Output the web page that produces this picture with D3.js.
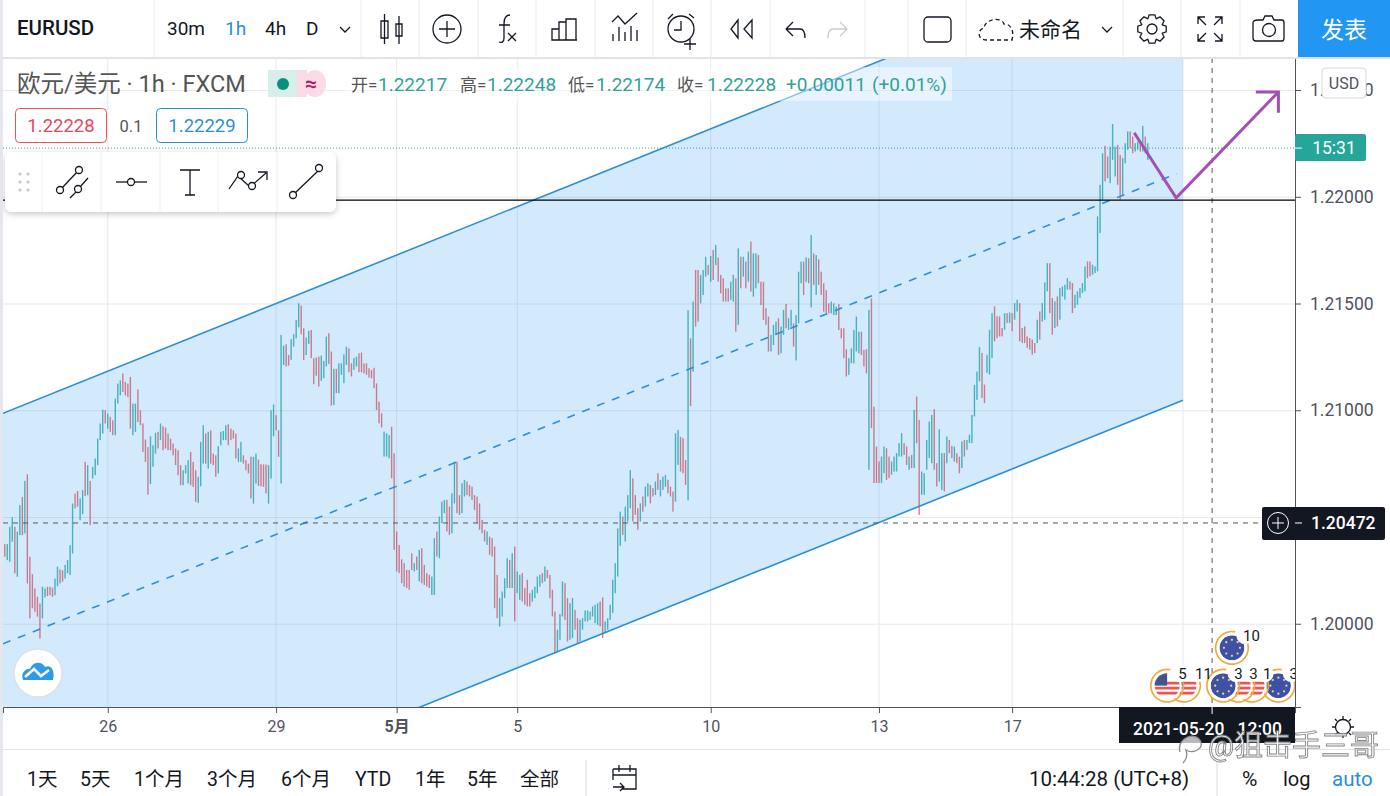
<!DOCTYPE html>
<html>
<head>
<meta charset="utf-8">
<title>EURUSD</title>
<script src="https://cdn.jsdelivr.net/npm/d3@7"></script>
<style>
html, body { margin: 0; padding: 0; background: #fff; overflow: hidden; }
svg { display: block; }
text { font-family: Roboto, "Noto Sans CJK SC", sans-serif; }
.icon { fill: none; stroke: #131722; stroke-width: 1.3; }
</style>
</head>
<body>
<svg id="chart" width="1390" height="796"></svg>
<script>
// hourly bars, ten to a row
var highs = [
1.20373,1.20373,1.20454,1.20498,1.20454,1.20431,1.20555,1.20594,1.20669,1.20700,
1.20314,1.20232,1.20165,1.20126,1.20095,1.20173,1.20165,1.20173,1.20173,1.20169,
1.20212,1.20267,1.20254,1.20251,1.20275,1.20298,1.20368,1.20563,1.20610,1.20622,
1.20587,1.20626,1.20758,1.20743,1.20669,1.20735,1.20774,1.20867,1.20938,1.21003,
1.21000,1.20984,1.20969,1.20953,1.21055,1.21125,1.21140,1.21172,1.21133,1.21125,
1.21156,1.21031,1.21031,1.21097,1.21000,1.20938,1.20863,1.20828,1.20878,1.20836,
1.20894,1.20899,1.20938,1.20925,1.20919,1.20891,1.20867,1.20844,1.20821,1.20813,
1.20743,1.20719,1.20743,1.20766,1.20805,1.20758,1.20719,1.20688,1.20852,1.20930,
1.20891,1.20899,1.20906,1.20797,1.20789,1.20832,1.20899,1.20903,1.20930,1.20934,
1.20914,1.20906,1.20891,1.20821,1.20852,1.20789,1.20766,1.20750,1.20782,1.20782,
1.20797,1.20769,1.20747,1.20746,1.20746,1.20743,1.21000,1.21027,1.20977,1.20906,
1.21353,1.21303,1.21309,1.21259,1.21333,1.21356,1.21423,1.21501,1.21490,1.21384,
1.21340,1.21372,1.21376,1.21244,1.21247,1.21251,1.21256,1.21231,1.21345,1.21361,
1.21275,1.21194,1.21194,1.21220,1.21220,1.21262,1.21298,1.21290,1.21220,1.21244,
1.21251,1.21267,1.21270,1.21220,1.21220,1.21197,1.21189,1.21199,1.21126,1.21040,
1.20986,1.20900,1.20892,1.20884,1.20923,1.20798,1.20432,1.20369,1.20302,1.20284,
1.20252,1.20252,1.20330,1.20284,1.20315,1.20346,1.20354,1.20276,1.20237,1.20229,
1.20221,1.20401,1.20432,1.20502,1.20572,1.20580,1.20580,1.20549,1.20611,1.20759,
1.20759,1.20603,1.20658,1.20674,1.20666,1.20650,1.20642,1.20603,1.20596,1.20564,
1.20486,1.20440,1.20432,1.20408,1.20401,1.20362,1.20229,1.20120,1.20151,1.20213,
1.20307,1.20299,1.20330,1.20362,1.20245,1.20229,1.20237,1.20167,1.20206,1.20143,
1.20159,1.20174,1.20221,1.20229,1.20237,1.20268,1.20252,1.20229,1.20159,1.20057,
1.19972,1.20046,1.20198,1.20190,1.20120,1.20096,1.20120,1.20065,1.20026,1.20018,
1.20026,1.20062,1.20062,1.20057,1.20081,1.20089,1.20096,1.20104,1.20123,1.20011,
1.20026,1.20089,1.20206,1.20284,1.20447,1.20525,1.20502,1.20549,1.20603,1.20720,
1.20681,1.20603,1.20541,1.20564,1.20596,1.20642,1.20658,1.20650,1.20635,1.20666,
1.20705,1.20674,1.20689,1.20697,1.20674,1.20642,1.20619,1.20892,1.20908,1.20876,
1.20869,1.20767,1.21469,1.21337,1.21509,1.21657,1.21657,1.21634,1.21657,1.21719,
1.21680,1.21723,1.21751,1.21774,1.21715,1.21634,1.21618,1.21571,1.21571,1.21602,
1.21634,1.21618,1.21758,1.21719,1.21719,1.21696,1.21743,1.21790,1.21735,1.21735,
1.21727,1.21602,1.21602,1.21478,1.21439,1.21353,1.21400,1.21415,1.21431,1.21392,
1.21470,1.21498,1.21431,1.21470,1.21407,1.21446,1.21649,1.21696,1.21696,1.21716,
1.21712,1.21821,1.21735,1.21727,1.21707,1.21649,1.21595,1.21563,1.21501,1.21509,
1.21501,1.21485,1.21498,1.21384,1.21384,1.21286,1.21244,1.21290,1.21376,1.21439,
1.21368,1.21368,1.21283,1.21286,1.21470,1.21524,1.21017,1.20830,1.20760,1.20783,
1.20830,1.20822,1.20783,1.20760,1.20783,1.20799,1.20846,1.20893,1.20846,1.20830,
1.20783,1.20791,1.21002,1.21064,1.20955,1.20713,1.20705,1.20861,1.20947,1.20978,
1.21005,1.20752,1.20911,1.20799,1.20799,1.20877,1.20861,1.20833,1.20830,1.20799,
1.20783,1.20854,1.20861,1.20861,1.20885,1.20978,1.21119,1.21181,1.21296,1.21268,
1.21120,1.21260,1.21377,1.21455,1.21487,1.21440,1.21440,1.21385,1.21455,1.21455,
1.21458,1.21455,1.21502,1.21518,1.21502,1.21385,1.21393,1.21346,1.21338,1.21331,
1.21315,1.21424,1.21463,1.21502,1.21599,1.21689,1.21689,1.21526,1.21510,1.21533,
1.21572,1.21580,1.21588,1.21619,1.21604,1.21596,1.21541,1.21557,1.21572,1.21596,
1.21674,1.21697,1.21697,1.21682,1.21674,1.21908,1.22056,1.22204,1.22239,1.22189,
1.22235,1.22341,1.22235,1.22243,1.22196,1.22181,1.22251,1.22306,1.22306,1.22282,
1.22251,1.22259,1.22251,1.22332,1.22282,1.22251
];
var lows = [
1.20314,1.20298,1.20290,1.20384,1.20236,1.20220,1.20415,1.20415,1.20423,1.20189,
1.20025,1.20072,1.20056,1.20033,1.19931,1.20025,1.20123,1.20130,1.20134,1.20126,
1.20134,1.20176,1.20189,1.20197,1.20212,1.20236,1.20228,1.20329,1.20540,1.20548,
1.20485,1.20513,1.20598,1.20602,1.20462,1.20680,1.20696,1.20743,1.20860,1.20891,
1.20938,1.20914,1.20899,1.20883,1.20883,1.21031,1.21070,1.21086,1.21070,1.21062,
1.20914,1.20883,1.20899,1.20945,1.20930,1.20805,1.20758,1.20605,1.20654,1.20735,
1.20797,1.20821,1.20860,1.20813,1.20821,1.20813,1.20813,1.20789,1.20743,1.20696,
1.20649,1.20649,1.20704,1.20657,1.20649,1.20641,1.20571,1.20566,1.20644,1.20750,
1.20750,1.20727,1.20750,1.20743,1.20688,1.20704,1.20836,1.20860,1.20860,1.20836,
1.20860,1.20867,1.20774,1.20758,1.20758,1.20750,1.20719,1.20704,1.20587,1.20563,
1.20657,1.20646,1.20644,1.20641,1.20610,1.20563,1.20680,1.20878,1.20906,1.20782,
1.20657,1.21212,1.21205,1.21209,1.21236,1.21298,1.21337,1.21389,1.21356,1.21236,
1.21259,1.21311,1.21244,1.21122,1.21162,1.21111,1.21138,1.21150,1.21205,1.21216,
1.21022,1.21025,1.21080,1.21080,1.21166,1.21127,1.21212,1.21178,1.21158,1.21189,
1.21205,1.21178,1.21178,1.21173,1.21166,1.21153,1.21150,1.21103,1.21001,1.20939,
1.20920,1.20783,1.20783,1.20775,1.20681,1.20346,1.20245,1.20237,1.20190,1.20174,
1.20167,1.20159,1.20252,1.20245,1.20252,1.20198,1.20190,1.20182,1.20174,1.20167,
1.20135,1.20135,1.20315,1.20307,1.20471,1.20518,1.20432,1.20416,1.20424,1.20564,
1.20518,1.20510,1.20518,1.20596,1.20603,1.20596,1.20580,1.20533,1.20471,1.20440,
1.20424,1.20385,1.20369,1.20323,1.20315,1.20073,1.20026,1.19987,1.20034,1.20120,
1.20167,1.20167,1.20167,1.20011,1.20143,1.20112,1.20104,1.20089,1.20081,1.20081,
1.20104,1.20120,1.20143,1.20174,1.20190,1.20198,1.20213,1.20120,1.20034,1.19862,
1.19870,1.19925,1.20034,1.20018,1.19917,1.19925,1.19933,1.19972,1.19909,1.19917,
1.19972,1.20011,1.20011,1.20018,1.20034,1.20003,1.19995,1.19987,1.19933,1.19956,
1.19972,1.20018,1.20050,1.20143,1.20221,1.20365,1.20416,1.20385,1.20479,1.20541,
1.20479,1.20510,1.20440,1.20479,1.20525,1.20549,1.20596,1.20564,1.20596,1.20603,
1.20627,1.20596,1.20627,1.20642,1.20611,1.20596,1.20525,1.20572,1.20744,1.20713,
1.20705,1.20650,1.20578,1.21020,1.21181,1.21392,1.21415,1.21501,1.21540,1.21626,
1.21634,1.21602,1.21610,1.21680,1.21602,1.21548,1.21509,1.21509,1.21509,1.21517,
1.21509,1.21368,1.21400,1.21571,1.21626,1.21571,1.21602,1.21556,1.21532,1.21571,
1.21595,1.21493,1.21423,1.21400,1.21275,1.21275,1.21306,1.21353,1.21259,1.21267,
1.21353,1.21384,1.21376,1.21392,1.21298,1.21233,1.21407,1.21595,1.21540,1.21602,
1.21595,1.21482,1.21587,1.21540,1.21587,1.21540,1.21462,1.21454,1.21454,1.21454,
1.21446,1.21446,1.21376,1.21337,1.21244,1.21158,1.21166,1.21220,1.21220,1.21275,
1.21267,1.21259,1.21205,1.21173,1.20721,1.20916,1.20659,1.20659,1.20659,1.20659,
1.20705,1.20674,1.20682,1.20698,1.20713,1.20713,1.20783,1.20783,1.20791,1.20744,
1.20721,1.20729,1.20729,1.20846,1.20510,1.20604,1.20604,1.20721,1.20776,1.20752,
1.20721,1.20643,1.20666,1.20627,1.20620,1.20752,1.20799,1.20776,1.20760,1.20752,
1.20705,1.20729,1.20783,1.20815,1.20846,1.20846,1.20971,1.21049,1.21136,1.21058,
1.21034,1.21175,1.21167,1.21245,1.21323,1.21338,1.21346,1.21346,1.21377,1.21409,
1.21409,1.21370,1.21424,1.21463,1.21323,1.21315,1.21315,1.21292,1.21284,1.21260,
1.21268,1.21315,1.21331,1.21416,1.21424,1.21557,1.21455,1.21354,1.21385,1.21393,
1.21424,1.21533,1.21518,1.21565,1.21565,1.21455,1.21479,1.21494,1.21526,1.21549,
1.21557,1.21619,1.21627,1.21635,1.21643,1.21651,1.21830,1.21986,1.22072,1.22087,
1.22064,1.22173,1.22095,1.22056,1.21986,1.22009,1.22157,1.22220,1.22228,1.22204,
1.22212,1.22220,1.22212,1.22212,1.22204,1.22173
];
var directions = [
'duuuduudud','ddddduuddd','uudduuuudd','uududuuuuu','dudduuuddd',
'duuddddduu','ududdddddd','duuuddduuu','duddduuuud','ddduuddddu',
'udddduuudd','uudduuuudd','uudddduuud','duduuuuddu','uddddddddd',
'duuudddddd','dddududddd','uuduuudduu','dduudddddd','ddudddduuu',
'ududuudddd','uuuududddd','uuudduuddu','uuuuuuuddu','uuuuuuduuu',
'ddduduuddu','duuuddduud','ddududduuu','dududddddu','ududududuu',
'ddddduuudu','uduuduuudu','dududddddu','uudddduuuu','uddduddddu',
'udduuuuudd','ududduuuuu','dduududdud','duduuuuuud','duuuddddud',
'uduudddddd','duduuuddud','uuuudduuuu','udduuuuudd','uuudduuudd','uududu'
].join('');

var priceTicks = [1.225, 1.22, 1.215, 1.21, 1.205, 1.2];
var hiddenPriceLabels = [1.205];
var timeTickBars = [41, 108, 156, 204, 281, 348, 401, 469];
var timeTickLabels = ['26', '29', '5月', '5', '10', '13', '17', ''];

var channelUpper = [[-0.7, 1.20986], [469, 1.23207]];
var channelLower = [[-0.7, 1.18824], [469, 1.21047]];
var channelMiddle = [[-0.7, 1.19906], [466.5, 1.22108]];
var arrowPath = [[449.6, 1.22300], [466.3, 1.21995], [507, 1.22491]];
var arrowHead = [[498, 1.22491], [507, 1.22491], [507, 1.22393]];
var levelPrice = 1.21984;
var lastPrice = 1.22228;
var crosshairPrice = 1.20472;
var crosshairBar = 480.6;

var quoteItems = [
	['开=', 351, 'grey'], ['1.22217', 378, 'up'], ['高=', 460, 'grey'], ['1.22248', 487, 'up'],
	['低=', 568, 'grey'], ['1.22174', 596, 'up'], ['收=', 677, 'grey'], ['1.22228', 707, 'up'],
	['+0.00011', 786, 'up'], ['(+0.01%)', 872, 'up']
];
var rangeButtons = [['1天', 27], ['5天', 80], ['1个月', 134], ['3个月', 207], ['6个月', 281], ['YTD', 355], ['1年', 415], ['5年', 467], ['全部', 520]];
var intervalButtons = [['30m', 167, '#131722'], ['1h', 225, '#2a8fd6'], ['4h', 265, '#131722'], ['D', 306, '#131722']];
var toolbarSeparators = [154, 361, 419, 478, 536, 595, 653, 711, 770, 865, 908, 966, 1123, 1181, 1240];
var drawSeparators = [42, 101, 160, 218, 277];
// economic calendar flags: bar, price, kind, label, listed back to front
var eventFlags = [[507, 1.19710, 'eu', '3'], [496.5, 1.19710, 'us', '1'], [491, 1.19710, 'us', '3'], [485, 1.19710, 'eu', '3'],
	[488.5, 1.19887, 'eu', '10'], [469.4, 1.19710, 'us', '11'], [462.7, 1.19710, 'us', '5']];

var upColor = '#26a69a', downColor = '#ef5350', channelColor = '#2a8fd6';

var svg = d3.select('#chart');
var plot = {left: 3, right: 1295, top: 58, bottom: 707};

var x = d3.scaleLinear().domain([-0.7, 513.6]).range([plot.left, plot.right]);
var y = d3.scaleLinear().domain([1.2265, 1.1961]).range([plot.top, plot.bottom]);

var bars = highs.map(function(h, i) {
	return {bar: i, high: h, low: lows[i], up: directions.charAt(i) === 'u'};
});

drawPlot();
drawAxes();
drawOverlays();
drawToolbars();

function drawPlot() {
	svg.append('rect').attr('width', 1390).attr('height', 796).attr('fill', '#fff');

	var defs = svg.append('defs');
	defs.append('clipPath').attr('id', 'plot-clip').append('rect')
		.attr('x', plot.left).attr('y', plot.top)
		.attr('width', plot.right - plot.left).attr('height', plot.bottom - plot.top);
	defs.append('clipPath').attr('id', 'flag-clip').append('circle').attr('r', 12.5);

	var grid = svg.append('g').attr('class', 'grid').attr('stroke', '#e6e8ec');
	grid.selectAll('.hgrid').data(priceTicks).enter().append('line')
		.attr('class', 'hgrid')
		.attr('x1', plot.left).attr('x2', plot.right)
		.attr('y1', function(d) { return y(d) + 0.5 }).attr('y2', function(d) { return y(d) + 0.5 });
	grid.selectAll('.vgrid').data(timeTickBars).enter().append('line')
		.attr('class', 'vgrid')
		.attr('y1', plot.top).attr('y2', plot.bottom)
		.attr('x1', function(d) { return x(d) }).attr('x2', function(d) { return x(d) });

	var chart = svg.append('g').attr('clip-path', 'url(#plot-clip)');

	chart.selectAll('.bar').data(bars).enter().append('rect')
		.attr('class', 'bar')
		.attr('x', function(d) { return x(d.bar) - 0.7 })
		.attr('width', 1.4)
		.attr('y', function(d) { return y(d.high) })
		.attr('height', function(d) { return y(d.low) - y(d.high) })
		.attr('fill', function(d) { return d.up ? upColor : downColor })
		.attr('opacity', 0.8);

	var line = d3.line().x(function(d) { return x(d[0]) }).y(function(d) { return y(d[1]) });

	chart.append('path')
		.attr('d', line(channelUpper.concat(channelLower.slice().reverse())) + 'Z')
		.attr('fill', 'rgba(33,150,243,0.2)');
	chart.append('path').attr('d', line(channelUpper)).attr('fill', 'none').attr('stroke', channelColor).attr('stroke-width', 1.6);
	chart.append('path').attr('d', line(channelLower)).attr('fill', 'none').attr('stroke', channelColor).attr('stroke-width', 1.6);
	chart.append('path').attr('d', line(channelMiddle)).attr('fill', 'none').attr('stroke', channelColor)
		.attr('stroke-width', 1.6).attr('stroke-dasharray', '8 8');

	chart.append('line')
		.attr('x1', plot.left).attr('x2', plot.right)
		.attr('y1', y(lastPrice)).attr('y2', y(lastPrice))
		.attr('stroke', upColor).attr('stroke-width', 1).attr('stroke-dasharray', '1 2');
	chart.append('line')
		.attr('x1', plot.left).attr('x2', plot.right)
		.attr('y1', y(crosshairPrice)).attr('y2', y(crosshairPrice))
		.attr('stroke', '#555').attr('stroke-dasharray', '5 5');
	chart.append('line')
		.attr('x1', x(crosshairBar)).attr('x2', x(crosshairBar))
		.attr('y1', plot.top).attr('y2', plot.bottom)
		.attr('stroke', '#555').attr('stroke-dasharray', '5 5');
	chart.append('line')
		.attr('x1', plot.left).attr('x2', plot.right)
		.attr('y1', y(levelPrice)).attr('y2', y(levelPrice))
		.attr('stroke', '#000').attr('stroke-width', 1.2);

	var arrow = svg.append('g').attr('fill', 'none').attr('stroke', '#a44fb8').attr('stroke-width', 3);
	arrow.append('path').attr('d', line(arrowPath));
	arrow.append('path').attr('d', line(arrowHead));

	drawEvents(chart);
}

function drawEvents(chart) {
	eventFlags.forEach(function(e) {
		var g = chart.append('g').attr('transform', 'translate(' + x(e[0]) + ',' + y(e[1]) + ')');
		g.append('path')
			.attr('d', d3.arc().innerRadius(15.5).outerRadius(17.2).startAngle(1.1).endAngle(2 * Math.PI + 0.2)())
			.attr('fill', '#f5a83c');
		g.append('circle').attr('r', 14.7).attr('fill', '#fff');
		var flag = g.append('g').attr('clip-path', 'url(#flag-clip)');
		if (e[2] === 'eu') {
			flag.append('circle').attr('r', 12.5).attr('fill', '#3f51a5');
			d3.range(8).forEach(function(k) {
				flag.append('circle').attr('r', 1.1).attr('fill', '#e9dc8f')
					.attr('cx', 8 * Math.cos(k * Math.PI / 4)).attr('cy', 8 * Math.sin(k * Math.PI / 4));
			});
		} else {
			flag.append('circle').attr('r', 12.5).attr('fill', '#fff');
			flag.append('path').attr('d', 'M-13,-2.5H13M-13,2.5H13M-13,7.5H13').attr('stroke', '#ef5350').attr('stroke-width', 2.6);
			flag.append('rect').attr('x', -13).attr('y', -13).attr('width', 13).attr('height', 13).attr('fill', '#44548f');
		}
		g.append('circle').attr('cx', 13).attr('cy', -12).attr('r', 8.5).attr('fill', '#fff');
		g.append('text').attr('x', 11).attr('y', -7).attr('font-size', 15).attr('fill', '#131722').text(e[3]);
	});
}

function drawAxes() {
	var priceFormat = d3.format('.5f');
	var priceAxis = d3.axisRight(y).tickValues(priceTicks)
		.tickFormat(function(d) { return hiddenPriceLabels.indexOf(d) > -1 ? '' : priceFormat(d) })
		.tickSize(6).tickPadding(9);
	var pg = svg.append('g').attr('transform', 'translate(' + plot.right + ',0)').call(priceAxis);
	pg.select('.domain').attr('stroke', '#50535e');
	pg.selectAll('.tick line').attr('stroke', '#50535e');
	pg.selectAll('.tick text').attr('font-size', 17.5).attr('fill', '#50535e').style('font-family', 'Roboto');

	var timeAxis = d3.axisBottom(x).tickValues(timeTickBars)
		.tickFormat(function(d, i) { return timeTickLabels[i] }).tickSize(6).tickPadding(8);
	var tg = svg.append('g').attr('transform', 'translate(0,' + plot.bottom + ')').call(timeAxis);
	tg.select('.domain').attr('stroke', '#50535e');
	tg.selectAll('.tick line').attr('stroke', '#50535e');
	tg.selectAll('.tick text').attr('font-size', 16).attr('fill', '#50535e')
		.style('font-family', 'Roboto, "Noto Sans CJK SC"')
		.attr('font-weight', function(d, i) { return timeTickLabels[i] === '5月' ? 700 : 400 });

	// price labels on the axis
	svg.append('rect').attr('x', 1295).attr('y', y(lastPrice) - 14).attr('width', 71).attr('height', 27).attr('rx', 2).attr('fill', upColor);
	svg.append('path').attr('d', 'M1295,' + y(lastPrice) + 'H1302').attr('stroke', '#fff');
	svg.append('text').attr('x', 1334).attr('y', y(lastPrice) + 6).attr('text-anchor', 'middle')
		.attr('font-size', 17.5).attr('fill', '#fff').text('15:31');

	svg.append('rect').attr('x', 1322).attr('y', 68).attr('width', 44).attr('height', 30).attr('rx', 4)
		.attr('fill', '#fff').attr('stroke', '#d6d8de');
	svg.append('text').attr('x', 1344).attr('y', 89).attr('text-anchor', 'middle')
		.attr('font-size', 16).attr('fill', '#50535e').text('USD');

	svg.append('rect').attr('x', 1262).attr('y', y(crosshairPrice) - 16).attr('width', 123).attr('height', 33).attr('rx', 2).attr('fill', '#131722');
	var plusY = y(crosshairPrice);
	svg.append('circle').attr('cx', 1278).attr('cy', plusY).attr('r', 10.5).attr('fill', 'none').attr('stroke', '#fff');
	svg.append('path').attr('d', 'M1272,' + plusY + 'H1284M1278,' + (plusY - 6) + 'V' + (plusY + 6)).attr('stroke', '#fff');
	svg.append('path').attr('d', 'M1295,' + plusY + 'H1302').attr('stroke', '#fff');
	svg.append('text').attr('x', 1311).attr('y', plusY + 6).attr('font-size', 17.5).attr('font-weight', 500).attr('fill', '#fff')
		.text(priceFormat(crosshairPrice));

	// time label under the crosshair
	svg.append('rect').attr('x', 1119).attr('y', plot.bottom).attr('width', 176).attr('height', 36).attr('fill', '#131722');
	svg.append('line').attr('x1', x(crosshairBar)).attr('x2', x(crosshairBar)).attr('y1', plot.bottom).attr('y2', plot.bottom + 7).attr('stroke', '#fff');
	svg.append('text').attr('x', 1133).attr('y', 735).attr('font-size', 17.5).attr('font-weight', 500).attr('fill', '#fff')
		.style('white-space', 'pre').text('2021-05-20   12:00');
}

function drawOverlays() {
	// legend
	svg.append('text').attr('x', 17).attr('y', 92).attr('font-size', 23.5).attr('fill', '#555')
		.style('font-family', 'Roboto, "Noto Sans CJK SC"').text('欧元/美元 · 1h · FXCM');

	svg.append('rect').attr('x', 268).attr('y', 70).attr('width', 29).attr('height', 27).attr('fill', '#d7eeeb');
	svg.append('rect').attr('x', 268).attr('y', 70).attr('width', 20).attr('height', 27).attr('rx', 13).attr('fill', '#d7eeeb');
	svg.append('rect').attr('x', 297).attr('y', 70).attr('width', 10).attr('height', 27).attr('fill', '#fbdbe6');
	svg.append('rect').attr('x', 304).attr('y', 70).attr('width', 22).attr('height', 27).attr('rx', 13).attr('fill', '#fbdbe6');
	svg.append('circle').attr('cx', 283).attr('cy', 84).attr('r', 6).attr('fill', '#0a8f7f');
	svg.append('text').attr('x', 311).attr('y', 91).attr('text-anchor', 'middle').attr('font-size', 21).attr('font-weight', 700)
		.attr('fill', '#b0226b').text('≈');

	svg.append('rect').attr('x', 345).attr('y', 67).attr('width', 607).attr('height', 34).attr('fill', 'rgba(255,255,255,0.45)');
	svg.selectAll('.quote').data(quoteItems).enter().append('text')
		.attr('class', 'quote')
		.attr('x', function(d) { return d[1] })
		.attr('y', 91)
		.attr('font-size', function(d) { return d[2] === 'up' ? 19 : 17 })
		.attr('fill', function(d) { return d[2] === 'up' ? '#31a295' : '#555' })
		.text(function(d) { return d[0] });

	// order buttons
	svg.append('rect').attr('x', 15.5).attr('y', 108.5).attr('width', 91).attr('height', 34).attr('rx', 4)
		.attr('fill', '#fff').attr('stroke', '#ef5350');
	svg.append('text').attr('x', 61).attr('y', 132).attr('text-anchor', 'middle').attr('font-size', 18.5).attr('fill', '#e2495a').text('1.22228');
	svg.append('text').attr('x', 131).attr('y', 132).attr('text-anchor', 'middle').attr('font-size', 16.5).attr('fill', '#555').text('0.1');
	svg.append('rect').attr('x', 156.5).attr('y', 108.5).attr('width', 91).attr('height', 34).attr('rx', 4)
		.attr('fill', '#fff').attr('stroke', '#2a8fd6');
	svg.append('text').attr('x', 202).attr('y', 132).attr('text-anchor', 'middle').attr('font-size', 18.5).attr('fill', '#2a8fd6').text('1.22229');

	// floating drawing toolbar
	var shadow = svg.append('filter').attr('id', 'soft').attr('x', '-10%').attr('y', '-30%').attr('width', '120%').attr('height', '170%');
	shadow.append('feDropShadow').attr('dx', 0).attr('dy', 2).attr('stdDeviation', 3).attr('flood-color', '#000').attr('flood-opacity', 0.22);
	svg.append('rect').attr('x', 5).attr('y', 152).attr('width', 331).attr('height', 60).attr('rx', 7)
		.attr('fill', '#fff').attr('filter', 'url(#soft)');
	svg.selectAll('.draw-sep').data(drawSeparators).enter().append('line')
		.attr('class', 'draw-sep').attr('y1', 152).attr('y2', 212).attr('stroke', '#f0f1f4')
		.attr('x1', function(d) { return d }).attr('x2', function(d) { return d });
	[0, 1].forEach(function(c) {
		[0, 1, 2].forEach(function(r) {
			svg.append('circle').attr('cx', 20 + c * 8).attr('cy', 174 + r * 8).attr('r', 1.6).attr('fill', '#c5c8cf');
		});
	});
	icon('M62,188L77,172M70,198L76,192M80,187L88,178');
	dot(60, 190, 3.5); dot(79, 170, 3.5); dot(78, 189, 3.5);
	icon('M116,182H147'); dot(131, 182, 3.5);
	icon('M180,170H200M190,170V195M185,195H195');
	icon('M229,189L238,176L250,187L266,173M258,172H267V180'); dot(241, 175, 3.5); dot(252, 186, 3.5);
	icon('M295,193L319,170'); dot(293, 195, 3.5); dot(319, 168, 3.5);

	// round logo in the corner of the plot
	svg.append('circle').attr('cx', 38).attr('cy', 673).attr('r', 24).attr('fill', '#fff').attr('stroke', '#dde0e6').attr('stroke-width', 1.5);
	svg.append('path')
		.attr('d', 'M23,680C20,672 27,668 30,669C33,661 42,661 45,667C52,664 55,672 53,680Z')
		.attr('fill', '#2f9be8');
	svg.append('path').attr('d', 'M25,677L34,669L41,676L49,670').attr('fill', 'none').attr('stroke', '#fff').attr('stroke-width', 2.5);
}

function dot(cx, cy, r) {
	svg.append('circle').attr('cx', cx).attr('cy', cy).attr('r', r).attr('fill', '#fff').attr('stroke', '#131722').attr('stroke-width', 1.3);
}

function icon(d, dash) {
	return svg.append('path').attr('class', 'icon').attr('d', d)
		.attr('stroke-dasharray', dash || null);
}

// outline of the settings gear, eight teeth round a centre
function gearPath(cx, cy) {
	var points = [];
	d3.range(8).forEach(function(k) {
		var a = k * Math.PI / 4;
		[[11, -0.39], [14.5, -0.2], [14.5, 0.2], [11, 0.39]].forEach(function(p) {
			points.push([cx + p[0] * Math.cos(a + p[1]), cy + p[0] * Math.sin(a + p[1])]);
		});
	});
	return d3.line()(points) + 'Z';
}

function drawToolbars() {
	// white bands above and below the chart
	svg.append('rect').attr('width', 1390).attr('height', 57).attr('fill', '#fff');
	svg.append('rect').attr('y', 57).attr('width', 1390).attr('height', 2).attr('fill', '#e0e3eb');
	svg.append('rect').attr('x', 0).attr('width', 3).attr('height', 796).attr('fill', '#e6e6ee');
	svg.append('rect').attr('x', 1298).attr('width', 92).attr('height', 57).attr('fill', '#2196f3');
	svg.append('text').attr('x', 1344).attr('y', 38).attr('text-anchor', 'middle').attr('font-size', 23).attr('fill', '#fff').text('发表');

	svg.selectAll('.tool-sep').data(toolbarSeparators).enter().append('line')
		.attr('class', 'tool-sep').attr('y1', 0).attr('y2', 57).attr('stroke', '#e8eaef')
		.attr('x1', function(d) { return d }).attr('x2', function(d) { return d });

	svg.append('text').attr('x', 17).attr('y', 35).attr('font-size', 20.5).attr('font-weight', 500).attr('fill', '#131722').text('EURUSD');
	svg.selectAll('.interval').data(intervalButtons).enter().append('text')
		.attr('class', 'interval')
		.attr('x', function(d) { return d[1] }).attr('y', 35).attr('font-size', 19)
		.attr('fill', function(d) { return d[2] })
		.text(function(d) { return d[0] });
	icon('M340,27L345,32L350,27');

	// candles
	icon('M381,21H388V38H381ZM384.5,14V44M396,24H402V36H396ZM399,16V44');
	// add indicator
	svg.append('circle').attr('class', 'icon').attr('cx', 447).attr('cy', 29).attr('r', 14);
	icon('M439,29H455M447,21V37');
	// fx
	icon('M510,15C505,15 504,19 504,24V38C504,42 502,43 499,42M499,25H510M508,33L516,41M516,33L508,41');
	// bars
	icon('M552,40V29H559V40ZM559,40V22H566V40ZM566,40V19H576V40ZM552,40H577');
	// indicators
	icon('M612,22L618,16L625,24L637,13M613,41V34M619,41V27M625,41V32M631,41V26M637,41V30');
	// alarm
	svg.append('circle').attr('class', 'icon').attr('cx', 681).attr('cy', 29).attr('r', 13);
	icon('M681,21V30H674M668,19L673,14M689,14L694,18M690,39V50M684,44H696');
	// rewind
	icon('M738,20L731,29L738,38ZM752,20L744,29L752,38Z');
	// undo and redo
	icon('M786,29H800C804,29 805,33 805,38M786,29L793,22M786,29L793,36');
	icon('M847,29H833C829,29 828,33 828,38M847,29L840,22M847,29L840,36').style('stroke', '#c8cbd2');
	// layout square
	svg.append('rect').attr('class', 'icon').attr('x', 924).attr('y', 17).attr('width', 27).attr('height', 25).attr('rx', 4);
	// cloud
	icon('M987,40C976,40 978,29 984,28C985,19 1001,16 1004,24C1012,24 1014,32 1012,40Z', '4 3');
	svg.append('text').attr('x', 1019).attr('y', 37).attr('font-size', 21).attr('fill', '#131722').text('未命名');
	icon('M1102,27L1107,32L1112,27');
	// gear
	svg.append('circle').attr('class', 'icon').attr('cx', 1152).attr('cy', 29).attr('r', 5);
	icon(gearPath(1152, 29));
	// fullscreen
	icon('M1198,24V17H1205M1198,17L1206,25M1222,24V17H1215M1222,17L1214,25M1198,34V41H1205M1198,41L1206,33M1222,34V41H1215M1222,41L1214,33');
	// camera
	icon('M1258,20H1263L1265,16H1272L1274,20H1282C1284,20 1284,22 1284,23V38C1284,40 1283,41 1282,41H1256C1254,41 1253,40 1253,38V23C1253,21 1255,20 1258,20Z');
	svg.append('circle').attr('class', 'icon').attr('cx', 1269).attr('cy', 30).attr('r', 6.5);

	// bottom bar
	svg.append('rect').attr('y', 749).attr('width', 1390).attr('height', 1).attr('fill', '#e0e3eb');
	svg.selectAll('.range').data(rangeButtons).enter().append('text')
		.attr('class', 'range')
		.attr('x', function(d) { return d[1] }).attr('y', 786).attr('font-size', 19.5).attr('fill', '#131722')
		.text(function(d) { return d[0] });
	svg.append('line').attr('x1', 586).attr('x2', 586).attr('y1', 760).attr('y2', 796).attr('stroke', '#d6d8de');
	icon('M613,769H636V789H622M613,769V780M619,765V772M630,765V772M613,787H624M620,783L624,787L620,791M613,775H636');
	svg.append('text').attr('x', 1029).attr('y', 786).attr('font-size', 20.5).attr('fill', '#131722').text('10:44:28 (UTC+8)');
	svg.append('line').attr('x1', 1217).attr('x2', 1217).attr('y1', 760).attr('y2', 796).attr('stroke', '#d6d8de');
	svg.append('text').attr('x', 1242).attr('y', 786).attr('font-size', 21).attr('fill', '#131722').text('%');
	svg.append('text').attr('x', 1283).attr('y', 786).attr('font-size', 20).attr('fill', '#131722').text('log');
	svg.append('text').attr('x', 1332).attr('y', 786).attr('font-size', 20.5).attr('fill', '#2a8fd6').text('auto');

	// sun
	svg.append('circle').attr('class', 'icon').attr('cx', 1343).attr('cy', 727).attr('r', 7.5);
	icon('M1343,716V719M1343,735V738M1332,727H1335M1351,727H1354M1335,719L1337,721M1349,733L1351,735M1335,735L1337,733M1349,721L1351,719');

	// watermark
	svg.append('text').attr('x', 1208).attr('y', 756).attr('font-size', 29)
		.attr('fill', '#fff').attr('stroke', '#777').attr('stroke-width', 0.9).attr('opacity', 0.9)
		.text('@狙击手三哥');
	icon('M1180,752C1176,738 1196,730 1201,742C1203,750 1192,754 1186,750C1188,756 1186,760 1183,763').style('stroke', '#888').style('fill', 'rgba(255,255,255,0.7)');
}
</script>
</body>
</html>
